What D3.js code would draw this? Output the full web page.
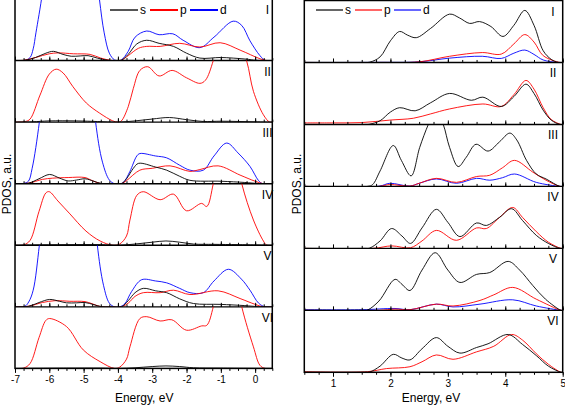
<!DOCTYPE html>
<html><head><meta charset="utf-8">
<script src="https://cdn.jsdelivr.net/npm/d3@7"></script>
<style>body{margin:0;background:#fff}svg{display:block;font-family:"Liberation Sans",Arial,sans-serif}</style>
</head><body><svg id="c" width="565" height="406"></svg>
<script>
// ---------- DATA (energy in eV, PDOS in a.u. normalised to panel height) ----------
const panelLabels = ["I","II","III","IV","V","VI"];
const seriesNames = ["s","p","d"];
const leftTickLabels = ["-7","-6","-5","-4","-3","-2","-1","0"];
const rightTickLabels = ["1","2","3","4","5"];

// Left chart (valence band, -7 .. 0.5 eV)
const L1_s = [[-7,0],[-6.7,0.005],[-6.4,0.05],[-6.1,0.12],[-5.88,0.15],[-5.6,0.1],[-5.36,0.07],[-5.1,0.075],[-4.87,0.08],[-4.6,0.04],[-4.3,0.005],[-4.0,0],[-3.9,0.005],[-3.7,0.1],[-3.45,0.27],[-3.16,0.33],[-2.8,0.28],[-2.38,0.23],[-2.0,0.12],[-1.61,0.04],[-1.02,0.05],[-0.64,0.04],[-0.2,0.02],[0.0,0.005],[0.5,0]];
const L1_p = [[-7,0],[-6.75,0.005],[-6.4,0.05],[-6.0,0.11],[-5.74,0.125],[-5.3,0.11],[-4.81,0.1],[-4.5,0.04],[-4.2,0.003],[-4.0,0],[-3.9,0.005],[-3.7,0.08],[-3.4,0.2],[-3.16,0.23],[-2.77,0.23],[-2.2,0.28],[-1.61,0.22],[-1.02,0.29],[-0.44,0.17],[0.14,0.03],[0.35,0],[0.5,0]];
const L1_d = [[-7,0],[-6.7,0.005],[-6.56,0.05],[-6.47,0.19],[-6.39,0.45],[-6.2,1.1],[-6.0,2.0],[-5.5,3],[-5,3],[-4.75,2],[-4.54,1.0],[-4.4,0.45],[-4.25,0.12],[-4.1,0.01],[-4.0,0],[-3.9,0.01],[-3.7,0.15],[-3.5,0.38],[-3.16,0.48],[-2.8,0.42],[-2.4,0.435],[-2.1,0.33],[-1.61,0.21],[-1.2,0.38],[-0.64,0.64],[-0.39,0.57],[-0.15,0.32],[0.14,0.08],[0.3,0],[0.5,0]];

const L2_s = [[-7,0],[-6.5,0.005],[-6,0.02],[-5.2,0.02],[-4.6,0.01],[-4.0,0],[-3.5,0.02],[-3.0,0.05],[-2.5,0.075],[-2.0,0.04],[-1.5,0.01],[-1.0,0.015],[0,0.005],[0.5,0]];
const L2_p = [[-7,0],[-6.7,0.01],[-6.56,0.05],[-6.27,0.44],[-6.0,0.78],[-5.8,0.86],[-5.6,0.8],[-5.31,0.575],[-4.92,0.31],[-4.53,0.145],[-4.15,0.02],[-4.0,0],[-3.9,0.02],[-3.7,0.25],[-3.55,0.55],[-3.36,0.84],[-3.13,0.9],[-2.8,0.75],[-2.42,0.84],[-2.0,0.72],[-1.61,0.63],[-1.45,0.68],[-1.22,1.0],[-1.0,1.5],[-0.6,1.5],[-0.25,1.0],[-0.05,0.5],[0.24,0.12],[0.42,0],[0.5,0]];
const L2_d = null;

const L3_s = [[-7,0],[-6.6,0.01],[-6.3,0.08],[-5.99,0.15],[-5.7,0.09],[-5.45,0.045],[-5.2,0.06],[-4.96,0.08],[-4.7,0.04],[-4.5,0.005],[-4.2,0],[-3.9,0],[-3.75,0.08],[-3.55,0.25],[-3.4,0.33],[-2.9,0.27],[-2.58,0.22],[-2.2,0.12],[-1.9,0.055],[-1.0,0.04],[-0.3,0.02],[0.1,0.003],[0.5,0]];
const L3_p = [[-7,0],[-6.6,0.01],[-6.2,0.07],[-5.9,0.09],[-5.45,0.1],[-4.96,0.1],[-4.75,0.05],[-4.52,0.005],[-4.2,0],[-3.9,0],[-3.75,0.05],[-3.36,0.22],[-3.0,0.25],[-2.48,0.29],[-1.9,0.2],[-1.61,0.23],[-1.08,0.29],[-0.44,0.14],[0.0,0.04],[0.24,0],[0.5,0]];
const L3_d = [[-7,0],[-6.75,0.005],[-6.61,0.04],[-6.5,0.25],[-6.29,1.0],[-6.1,2],[-5.5,3],[-5,3],[-4.8,2],[-4.65,1.0],[-4.45,0.35],[-4.25,0.06],[-4.1,0],[-3.95,0],[-3.84,0.02],[-3.65,0.2],[-3.45,0.45],[-3.36,0.49],[-2.9,0.45],[-2.58,0.42],[-2.2,0.3],[-1.9,0.22],[-1.51,0.22],[-1.2,0.45],[-0.83,0.66],[-0.5,0.5],[-0.15,0.28],[0.1,0.05],[0.22,0],[0.5,0]];

const L4_s = [[-7,0],[-6.5,0.005],[-5.5,0.01],[-4.5,0.01],[-4,0],[-3.5,0.02],[-3.0,0.05],[-2.6,0.07],[-2.2,0.05],[-1.8,0.02],[-1.2,0.015],[-0.5,0.01],[0.5,0]];
const L4_p = [[-7,0],[-6.75,0.005],[-6.56,0.08],[-6.3,0.55],[-6.1,0.85],[-6.0,0.87],[-5.75,0.72],[-5.4,0.51],[-4.93,0.23],[-4.52,0.07],[-4.15,0],[-3.95,0.02],[-3.75,0.15],[-3.65,0.41],[-3.45,0.81],[-3.26,0.87],[-2.77,0.74],[-2.38,0.83],[-2.0,0.56],[-1.56,0.68],[-1.41,0.63],[-1.22,1.0],[-1.0,1.6],[-0.6,1.6],[-0.39,1.0],[-0.05,0.41],[0.24,0.07],[0.34,0],[0.5,0]];
const L4_d = null;

const L5_s = [[-7,0],[-6.6,0.01],[-6.3,0.07],[-5.99,0.12],[-5.7,0.09],[-5.5,0.065],[-5.2,0.065],[-4.96,0.07],[-4.7,0.035],[-4.5,0.005],[-4.2,0],[-3.9,0],[-3.7,0.1],[-3.5,0.23],[-3.26,0.3],[-2.9,0.26],[-2.58,0.23],[-2.2,0.13],[-1.8,0.054],[-1.02,0.04],[-0.3,0.02],[0.1,0.003],[0.5,0]];
const L5_p = [[-7,0],[-6.6,0.01],[-6.2,0.07],[-5.83,0.1],[-5.4,0.09],[-4.96,0.085],[-4.75,0.05],[-4.52,0.005],[-4.2,0],[-3.9,0],[-3.7,0.06],[-3.5,0.17],[-3.26,0.23],[-2.77,0.23],[-2.38,0.27],[-1.9,0.2],[-1.08,0.26],[-0.44,0.135],[0.0,0.04],[0.24,0],[0.5,0]];
const L5_d = [[-7,0],[-6.71,0.01],[-6.6,0.08],[-6.47,0.27],[-6.29,1.0],[-6.1,2],[-5.5,3],[-5,3],[-4.75,2],[-4.6,1.0],[-4.42,0.35],[-4.25,0.06],[-4.1,0],[-3.95,0],[-3.8,0.05],[-3.6,0.25],[-3.31,0.44],[-2.9,0.42],[-2.58,0.39],[-2.2,0.3],[-1.9,0.23],[-1.51,0.23],[-1.2,0.42],[-0.78,0.61],[-0.4,0.45],[-0.15,0.27],[0.1,0.06],[0.29,0],[0.5,0]];

const L6_s = [[-7,0],[-5.5,0.005],[-4.5,0.005],[-4,0],[-3.5,0.01],[-3.0,0.03],[-2.6,0.04],[-2.2,0.03],[-1.8,0.01],[-1,0.005],[0.5,0]];
const L6_p = [[-7,0],[-6.75,0.005],[-6.56,0.08],[-6.3,0.5],[-6.1,0.78],[-5.99,0.81],[-5.5,0.68],[-5.01,0.3],[-4.52,0.11],[-4.1,0],[-3.95,0.02],[-3.75,0.15],[-3.65,0.35],[-3.36,0.81],[-3.16,0.84],[-2.77,0.77],[-2.43,0.79],[-2.0,0.62],[-1.56,0.69],[-1.41,0.7],[-1.22,1.0],[-1.0,1.6],[-0.6,1.6],[-0.39,1.0],[-0.05,0.35],[0.14,0.05],[0.29,0],[0.5,0]];
const L6_d = null;

// Right chart (conduction band, 0.5 .. 5 eV)
const R1_s = [[0.5,0],[1.5,0],[1.64,0.005],[1.82,0.09],[2.0,0.35],[2.16,0.5],[2.3,0.44],[2.45,0.4],[2.7,0.55],[3.03,0.78],[3.2,0.72],[3.38,0.63],[3.55,0.66],[3.75,0.58],[3.96,0.42],[4.15,0.6],[4.34,0.84],[4.5,0.6],[4.66,0.19],[4.8,0.05],[4.92,0],[5,0]];
const R1_p = [[0.5,0],[1.8,0],[2.5,0.01],[3.03,0.1],[3.6,0.16],[3.93,0.135],[4.15,0.3],[4.34,0.45],[4.5,0.33],[4.66,0.11],[4.95,0],[5,0]];
const R1_d = [[0.5,0],[1.8,0.002],[2.5,0.01],[3.03,0.07],[3.6,0.1],[3.93,0.065],[4.15,0.15],[4.34,0.2],[4.5,0.13],[4.66,0.04],[4.92,0],[5,0]];

const R2_s = [[0.5,0],[1.55,0],[1.64,0.005],[1.82,0.06],[2.0,0.2],[2.16,0.27],[2.43,0.22],[2.7,0.35],[3.03,0.5],[3.41,0.39],[3.61,0.44],[3.93,0.29],[4.15,0.45],[4.36,0.65],[4.5,0.5],[4.66,0.23],[4.8,0.07],[4.95,0],[5,0]];
const R2_p = [[0.5,0.025],[1.0,0.025],[1.5,0.03],[1.99,0.07],[2.4,0.1],[2.7,0.17],[3.03,0.25],[3.61,0.33],[3.93,0.29],[4.15,0.48],[4.36,0.71],[4.5,0.57],[4.66,0.27],[4.8,0.08],[4.97,0],[5,0]];
const R2_d = null;

const R3_s = [[0.5,0],[1.6,0],[1.69,0.03],[1.82,0.25],[2.05,0.66],[2.19,0.42],[2.36,0.17],[2.51,0.63],[2.66,1.0],[2.79,1.25],[2.92,1.0],[3.03,0.63],[3.18,0.32],[3.32,0.47],[3.49,0.68],[3.7,0.57],[3.9,0.72],[4.08,0.86],[4.2,0.75],[4.37,0.42],[4.54,0.2],[4.71,0.12],[4.95,0],[5,0]];
const R3_p = [[0.5,0],[1.8,0],[1.99,0.03],[2.34,0.005],[2.5,0.05],[2.8,0.13],[3.15,0.065],[3.5,0.16],[3.73,0.18],[3.95,0.3],[4.16,0.42],[4.48,0.23],[4.71,0.1],[4.95,0],[5,0]];
const R3_d = [[0.5,0],[1.8,0.003],[1.99,0.05],[2.34,0.005],[2.5,0.05],[2.8,0.12],[3.15,0.05],[3.5,0.13],[3.73,0.1],[3.95,0.14],[4.16,0.2],[4.54,0.065],[4.95,0],[5,0]];

const R4_s = [[0.5,0],[1.55,0],[1.64,0.005],[1.82,0.12],[2.02,0.32],[2.2,0.2],[2.35,0.08],[2.55,0.33],[2.8,0.63],[3.0,0.42],[3.21,0.19],[3.5,0.41],[3.67,0.37],[3.9,0.5],[4.11,0.64],[4.3,0.45],[4.54,0.21],[4.75,0.08],[4.95,0],[5,0]];
const R4_p = [[0.5,0],[1.7,0],[2.02,0.04],[2.35,0.01],[2.55,0.12],[2.8,0.29],[3.15,0.13],[3.5,0.33],[3.67,0.32],[3.9,0.5],[4.13,0.66],[4.3,0.5],[4.54,0.27],[4.75,0.1],[4.97,0],[5,0]];
const R4_d = null;

const R5_s = [[0.5,0],[1.5,0],[1.6,0.005],[1.8,0.15],[2.08,0.5],[2.2,0.42],[2.34,0.32],[2.55,0.65],[2.78,0.93],[3.0,0.65],[3.21,0.45],[3.5,0.58],[3.73,0.61],[4.05,0.79],[4.25,0.65],[4.48,0.4],[4.7,0.18],[4.97,0],[5,0]];
const R5_p = [[0.5,0],[1.8,0],[2.08,0.02],[2.34,0.01],[2.8,0.1],[3.09,0.07],[3.56,0.16],[3.8,0.25],[4.13,0.37],[4.54,0.18],[4.97,0],[5,0]];
const R5_d = [[0.5,0.01],[1.5,0.01],[2.08,0.03],[2.34,0.01],[2.8,0.1],[3.09,0.055],[3.56,0.1],[4.13,0.17],[4.54,0.07],[4.97,0],[5,0]];

const R6_s = [[0.5,0],[1.55,0],[1.64,0.005],[1.82,0.1],[2.05,0.29],[2.2,0.23],[2.34,0.2],[2.55,0.38],[2.8,0.56],[3.0,0.42],[3.21,0.31],[3.5,0.4],[3.7,0.46],[4.05,0.61],[4.3,0.45],[4.54,0.27],[4.75,0.1],[4.97,0],[5,0]];
const R6_p = [[0.5,0.01],[1.6,0.01],[1.93,0.06],[2.34,0.09],[2.55,0.17],[2.8,0.28],[3.09,0.21],[3.5,0.33],[3.8,0.42],[4.11,0.61],[4.3,0.52],[4.54,0.3],[4.75,0.13],[4.97,0],[5,0]];
const R6_d = null;

const leftSeries = [[L1_s,L1_p,L1_d],[L2_s,L2_p,L2_d],[L3_s,L3_p,L3_d],[L4_s,L4_p,L4_d],[L5_s,L5_p,L5_d],[L6_s,L6_p,L6_d]];
const rightSeries = [[R1_s,R1_p,R1_d],[R2_s,R2_p,R2_d],[R3_s,R3_p,R3_d],[R4_s,R4_p,R4_d],[R5_s,R5_p,R5_d],[R6_s,R6_p,R6_d]];

// ---------- DRAWING ----------
const svg = d3.select("#c");
const colors = {s:"#000000", p:"#ff0000", d:"#0000ff"};

function drawChart(cfg){
  const g = svg.append("g");
  const x = d3.scaleLinear().domain(cfg.domain).range([cfg.x0, cfg.x1]);
  const ph = (cfg.yBottom - cfg.yTop) / 6;
  const majorVals = cfg.tickLabels.map(Number);
  const minorVals = d3.range(cfg.domain[0], cfg.domain[1] + 1e-9, 0.25);

  cfg.series.forEach((ser, i) => {
    const top = cfg.yTop + i * ph, bot = top + ph;
    const y = d3.scaleLinear().domain([0, 1]).range([bot, top]);
    const cid = cfg.id + "clip" + i;
    g.append("clipPath").attr("id", cid).append("rect")
      .attr("x", cfg.x0).attr("y", top).attr("width", cfg.x1 - cfg.x0).attr("height", ph);
    const line = d3.line().x(d => x(d[0])).y(d => y(d[1])).curve(d3.curveCatmullRom.alpha(0.5));
    const pg = g.append("g").attr("clip-path", `url(#${cid})`);
    [2,1,0].forEach(k => {
      const data = ser[k];
      if (!data) return;
      pg.append("path").datum(data).attr("d", line)
        .attr("fill", "none").attr("stroke", colors[seriesNames[k]])
        .attr("stroke-width", 0.9).attr("stroke-linejoin","round");
    });
    g.append("text").attr("x", cfg.numX).attr("y", top + 15)
      .attr("text-anchor", "middle").attr("font-size", 12).text(panelLabels[i]);
    if (i < 5) {
      const axMinor = d3.axisTop(x).tickValues(minorVals).tickSize(2.5).tickFormat("");
      const axMajor = d3.axisTop(x).tickValues(majorVals).tickSize(4).tickFormat("");
      [axMinor, axMajor].forEach(ax => {
        const a = g.append("g").attr("transform", `translate(0,${bot})`).call(ax);
        a.select(".domain").remove();
        a.selectAll("line").attr("stroke","#000").attr("stroke-width",1);
      });
      g.append("line").attr("x1", cfg.x0).attr("x2", cfg.x1).attr("y1", bot).attr("y2", bot)
        .attr("stroke", "#000").attr("stroke-width", 1.4);
    }
  });

  const axMinor = d3.axisBottom(x).tickValues(minorVals).tickSize(2.5).tickFormat("");
  const axMajor = d3.axisBottom(x).tickValues(majorVals).tickSize(4.5)
      .tickFormat((d, j) => cfg.tickLabels[j]).tickPadding(3);
  [axMinor, axMajor].forEach(ax => {
    const a = g.append("g").attr("transform", `translate(0,${cfg.yBottom})`).call(ax);
    a.select(".domain").remove();
    a.selectAll("line").attr("stroke","#000").attr("stroke-width",1);
    a.selectAll("text").attr("font-size", 10).attr("fill","#000")
      .attr("font-family",'"Liberation Sans",Arial,sans-serif');
  });

  g.append("rect").attr("x", cfg.x0).attr("y", cfg.yTop).attr("width", cfg.x1 - cfg.x0)
    .attr("height", cfg.yBottom - cfg.yTop).attr("fill", "none").attr("stroke", "#000").attr("stroke-width", 1.5);

  g.append("text").attr("x", (cfg.x0 + cfg.x1) / 2 + cfg.titleDx).attr("y", 402)
    .attr("text-anchor", "middle").attr("font-size", 12).text("Energy, eV");
  g.append("text").attr("transform", `translate(${cfg.yLabelX},184) rotate(-90)`)
    .attr("text-anchor", "middle").attr("font-size", 12).text("PDOS, a.u.");

  const lg = g.append("g");
  let lx = cfg.legX;
  seriesNames.forEach(n => {
    lg.append("line").attr("x1", lx).attr("x2", lx + cfg.legLen).attr("y1", 10).attr("y2", 10)
      .attr("stroke", n === "s" ? cfg.legS : colors[n]).attr("stroke-width", cfg.legW);
    lg.append("text").attr("x", lx + cfg.legLen + 2).attr("y", 14).attr("font-size", 12).text(n);
    lx += cfg.legLen + 12;
  });
}

drawChart({id:"L", domain:[-7,0.5], x0:15, x1:272.3, yTop:-1, yBottom:368.4,
  series:leftSeries, tickLabels:leftTickLabels, numX:267.5, titleDx:0.5, yLabelX:10.5,
  legX:110, legLen:28, legW:2, legS:"#555"});
drawChart({id:"R", domain:[0.5,5], x0:304.3, x1:562.7, yTop:0.5, yBottom:372.3,
  series:rightSeries, tickLabels:rightTickLabels, numX:553, titleDx:-2.5, yLabelX:300.5,
  legX:316, legLen:27, legW:1.2, legS:"#000"});
</script>
</body></html>
